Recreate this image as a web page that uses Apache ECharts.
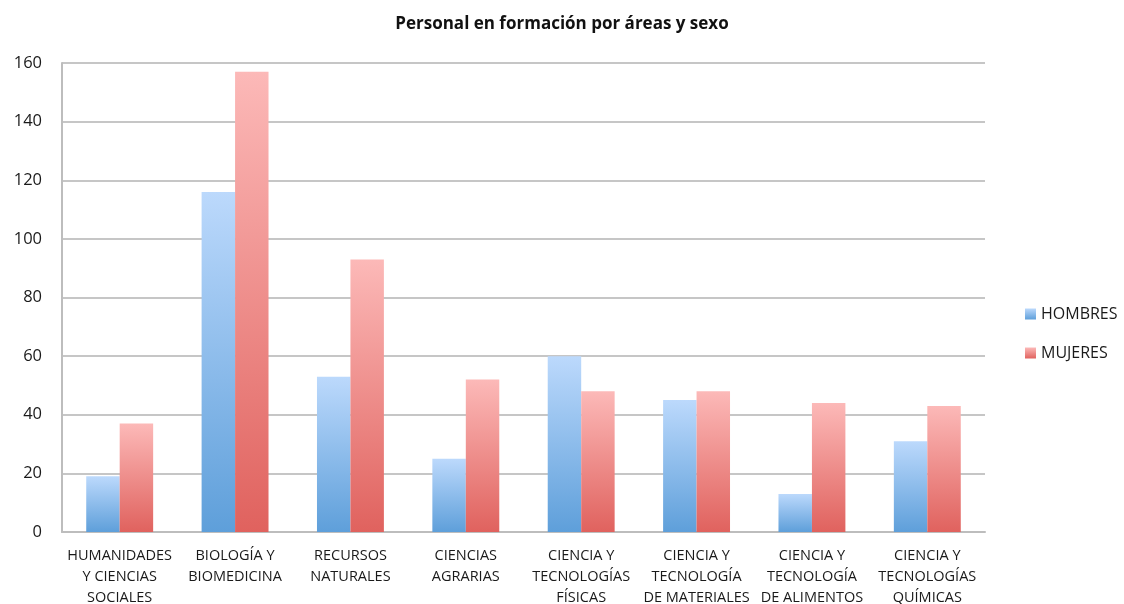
<!DOCTYPE html>
<html lang="es">
<head>
    <meta charset="utf-8"/>
    <title>Personal en formación por áreas y sexo</title>
    <script src="https://cdn.jsdelivr.net/npm/echarts@6/dist/echarts.min.js"></script>
    <style>
        html, body { margin: 0; padding: 0; background: #fff; }
        #chart { width: 1124px; height: 604px; }
    </style>
</head>
<body>
<div id="chart"></div>
<script>
    // datos
    var areas = [
        'HUMANIDADES\nY CIENCIAS\nSOCIALES',
        'BIOLOGÍA Y\nBIOMEDICINA',
        'RECURSOS\nNATURALES',
        'CIENCIAS\nAGRARIAS',
        'CIENCIA Y\nTECNOLOGÍAS\nFÍSICAS',
        'CIENCIA Y\nTECNOLOGÍA\nDE MATERIALES',
        'CIENCIA Y\nTECNOLOGÍA\nDE ALIMENTOS',
        'CIENCIA Y\nTECNOLOGÍAS\nQUÍMICAS'
    ];
    var hombres = [19, 116, 53, 25, 60, 45, 13, 31];
    var mujeres = [37, 157, 93, 52, 48, 48, 44, 43];
    var yTicks = [0, 20, 40, 60, 80, 100, 120, 140, 160];

    var fuente = '"Open Sans", "Noto Sans", sans-serif';

    function degradado(arriba, abajo) {
        return new echarts.graphic.LinearGradient(0, 0, 0, 1, [
            { offset: 0, color: arriba },
            { offset: 1, color: abajo }
        ]);
    }

    var chart = echarts.init(document.getElementById('chart'));
    var option = {
        animation: false,
        textStyle: { fontFamily: fuente },
        title: {
            text: 'Personal en formación por áreas y sexo',
            left: 'center',
            top: 11,
            textStyle: { fontSize: 17, fontWeight: 'bold', color: '#111', fontFamily: fuente }
        },
        legend: {
            orient: 'vertical',
            left: 1020,
            top: 301,
            itemWidth: 11,
            itemHeight: 11,
            itemGap: 23,
            icon: 'rect',
            textStyle: { fontSize: 16, color: '#1a1a1a', fontFamily: fuente },
            data: ['HOMBRES', 'MUJERES']
        },
        grid: { left: 62, right: 139, top: 63, bottom: 72, outerBoundsMode: 'none' },
        xAxis: {
            type: 'category',
            data: areas,
            axisTick: { show: false },
            axisLine: { lineStyle: { color: '#bdbdbd', width: 2 } },
            axisLabel: {
                interval: 0,
                margin: 13,
                fontSize: 14.5,
                lineHeight: 21,
                color: '#1a1a1a',
                fontFamily: fuente
            }
        },
        yAxis: {
            type: 'value',
            min: yTicks[0],
            max: yTicks[yTicks.length - 1],
            interval: 20,
            axisLine: { show: true, lineStyle: { color: '#bdbdbd', width: 2 } },
            axisTick: { show: false },
            splitLine: { lineStyle: { color: '#c6c6c6', width: 2 } },
            axisLabel: { fontSize: 16.5, color: '#1a1a1a', margin: 20, fontFamily: fuente }
        },
        series: [
            {
                name: 'HOMBRES',
                type: 'bar',
                data: hombres,
                barGap: '0%',
                barCategoryGap: '42%',
                itemStyle: { color: degradado('#bcd9fc', '#5e9fda') }
            },
            {
                name: 'MUJERES',
                type: 'bar',
                data: mujeres,
                itemStyle: { color: degradado('#fcb9b8', '#e0625e') }
            }
        ]
    };
    chart.setOption(option);
</script>
</body>
</html>
